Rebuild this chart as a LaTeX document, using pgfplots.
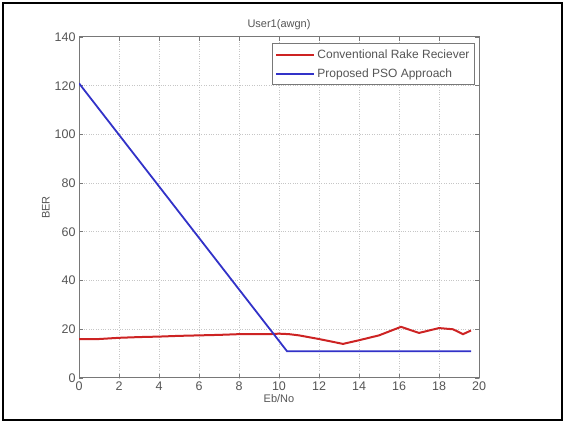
\documentclass[border=0pt]{standalone}
\usepackage{pgfplots}
\pgfplotsset{compat=1.18}
\usepackage{fontspec}
\setmainfont{Liberation Sans}
\definecolor{txtgray}{RGB}{85,85,85}
\definecolor{axgray}{RGB}{120,120,120}
\definecolor{redl}{RGB}{205,35,35}
\definecolor{bluel}{RGB}{50,50,200}
\begin{document}
\begin{tikzpicture}
\path[use as bounding box] (0pt,0pt) rectangle (565pt,423pt);
\begin{axis}[
  at={(79pt,45pt)}, anchor=south west,
  scale only axis, width=400pt, height=341pt,
  xmin=0, xmax=20, ymin=0, ymax=140,
  xtick distance=2, ytick distance=20,
  grid=major,
  major grid style={dotted, gray!45, line width=1pt},
  axis line style={axgray, line width=1pt},
  tick style={axgray, line width=0.8pt},
  tick align=inside, major tick length=4pt,
  ticklabel style={font=\fontsize{12.5}{14}\selectfont, text=txtgray},
  /pgf/number format/assume math mode=true,
  title={User1(awgn)},
  title style={font=\fontsize{11}{13}\selectfont, text=txtgray, yshift=-2pt},
  xlabel={Eb/No}, ylabel={BER},
  label style={font=\fontsize{11}{13}\selectfont, text=txtgray},
  xlabel style={yshift=3pt},
  ylabel style={yshift=-2pt},
  legend style={at={(1,1)}, anchor=north east, xshift=-4pt, yshift=-6pt,
    draw=axgray, line width=1pt, font=\fontsize{12}{14}\selectfont, text=txtgray,
    inner xsep=3pt, inner ysep=4pt, row sep=5pt},
  legend cell align=left,
  legend image code/.code={\draw[#1] (0pt,0pt) -- (38pt,0pt);},
]
\addplot[redl, line width=2pt] coordinates {
(0,16) (1,16) (2,16.5) (3,16.8) (4,17) (5,17.3) (6,17.5) (7,17.7) (8,18) (9,18) (9.5,18) (10,18.2)
(10.5,18) (11,17.5) (12,16) (13.2,14) (14,15.5) (15,17.5) (16.1,21) (17,18.5) (18,20.5) (18.7,20) (19.2,18) (19.6,19.5)
};
\addlegendentry{Conventional Rake Reciever}
\addplot[bluel, line width=1.8pt] coordinates {
(0,121) (10.4,11) (19.6,11)
};
\addlegendentry{Proposed PSO Approach}
\end{axis}
\draw[line width=2pt] (3pt,3pt) rectangle (562pt,420pt);
\end{tikzpicture}
\end{document}
